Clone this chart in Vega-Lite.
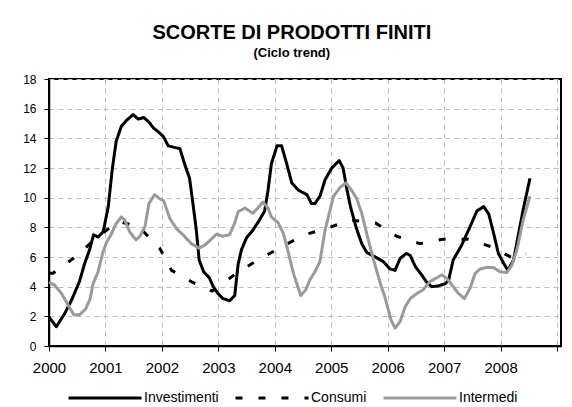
{
  "$schema": "https://vega.github.io/schema/vega-lite/v6.json",
  "width": 512,
  "height": 267,
  "autosize": {"type": "none"},
  "padding": {"left": 49, "top": 79, "right": 11, "bottom": 61},
  "background": "white",
  "title": {
    "text": "SCORTE DI PRODOTTI FINITI",
    "subtitle": "(Ciclo trend)",
    "font": "Liberation Sans",
    "fontSize": 20,
    "fontWeight": "bold",
    "color": "black",
    "subtitleFont": "Liberation Sans",
    "subtitleFontSize": 13,
    "subtitleFontWeight": "bold",
    "subtitleColor": "black",
    "subtitlePadding": 4,
    "anchor": "middle",
    "frame": "bounds",
    "offset": 13
  },
  "data": {
    "values": [
      {"s": "Investimenti", "t": 2000.00, "v": 1.95},
      {"s": "Investimenti", "t": 2000.13, "v": 1.3},
      {"s": "Investimenti", "t": 2000.28, "v": 2.2},
      {"s": "Investimenti", "t": 2000.40, "v": 3.1},
      {"s": "Investimenti", "t": 2000.54, "v": 4.35},
      {"s": "Investimenti", "t": 2000.63, "v": 5.55},
      {"s": "Investimenti", "t": 2000.72, "v": 6.5},
      {"s": "Investimenti", "t": 2000.79, "v": 7.5},
      {"s": "Investimenti", "t": 2000.87, "v": 7.35},
      {"s": "Investimenti", "t": 2000.96, "v": 7.7},
      {"s": "Investimenti", "t": 2001.05, "v": 9.4},
      {"s": "Investimenti", "t": 2001.12, "v": 11.9},
      {"s": "Investimenti", "t": 2001.19, "v": 13.8},
      {"s": "Investimenti", "t": 2001.28, "v": 14.8},
      {"s": "Investimenti", "t": 2001.37, "v": 15.2},
      {"s": "Investimenti", "t": 2001.49, "v": 15.6},
      {"s": "Investimenti", "t": 2001.58, "v": 15.3},
      {"s": "Investimenti", "t": 2001.68, "v": 15.4},
      {"s": "Investimenti", "t": 2001.77, "v": 15.1},
      {"s": "Investimenti", "t": 2001.85, "v": 14.7},
      {"s": "Investimenti", "t": 2001.95, "v": 14.4},
      {"s": "Investimenti", "t": 2002.03, "v": 14.1},
      {"s": "Investimenti", "t": 2002.11, "v": 13.5},
      {"s": "Investimenti", "t": 2002.21, "v": 13.4},
      {"s": "Investimenti", "t": 2002.32, "v": 13.3},
      {"s": "Investimenti", "t": 2002.40, "v": 12.3},
      {"s": "Investimenti", "t": 2002.49, "v": 11.3},
      {"s": "Investimenti", "t": 2002.55, "v": 9.6},
      {"s": "Investimenti", "t": 2002.61, "v": 7.8},
      {"s": "Investimenti", "t": 2002.66, "v": 5.8},
      {"s": "Investimenti", "t": 2002.74, "v": 5.0},
      {"s": "Investimenti", "t": 2002.84, "v": 4.6},
      {"s": "Investimenti", "t": 2002.91, "v": 4.0},
      {"s": "Investimenti", "t": 2002.99, "v": 3.55},
      {"s": "Investimenti", "t": 2003.08, "v": 3.2},
      {"s": "Investimenti", "t": 2003.20, "v": 3.05},
      {"s": "Investimenti", "t": 2003.29, "v": 3.4},
      {"s": "Investimenti", "t": 2003.35, "v": 5.5},
      {"s": "Investimenti", "t": 2003.41, "v": 6.5},
      {"s": "Investimenti", "t": 2003.50, "v": 7.3},
      {"s": "Investimenti", "t": 2003.61, "v": 7.8},
      {"s": "Investimenti", "t": 2003.73, "v": 8.5},
      {"s": "Investimenti", "t": 2003.82, "v": 9.1},
      {"s": "Investimenti", "t": 2003.88, "v": 10.5},
      {"s": "Investimenti", "t": 2003.94, "v": 12.3},
      {"s": "Investimenti", "t": 2004.04, "v": 13.5},
      {"s": "Investimenti", "t": 2004.12, "v": 13.5},
      {"s": "Investimenti", "t": 2004.21, "v": 12.3},
      {"s": "Investimenti", "t": 2004.30, "v": 11.0},
      {"s": "Investimenti", "t": 2004.42, "v": 10.5},
      {"s": "Investimenti", "t": 2004.57, "v": 10.2},
      {"s": "Investimenti", "t": 2004.65, "v": 9.6},
      {"s": "Investimenti", "t": 2004.71, "v": 9.6},
      {"s": "Investimenti", "t": 2004.80, "v": 10.1},
      {"s": "Investimenti", "t": 2004.89, "v": 11.2},
      {"s": "Investimenti", "t": 2005.01, "v": 12.0},
      {"s": "Investimenti", "t": 2005.14, "v": 12.5},
      {"s": "Investimenti", "t": 2005.21, "v": 12.0},
      {"s": "Investimenti", "t": 2005.27, "v": 10.7},
      {"s": "Investimenti", "t": 2005.34, "v": 9.4},
      {"s": "Investimenti", "t": 2005.44, "v": 8.0},
      {"s": "Investimenti", "t": 2005.54, "v": 6.9},
      {"s": "Investimenti", "t": 2005.63, "v": 6.3},
      {"s": "Investimenti", "t": 2005.78, "v": 6.0},
      {"s": "Investimenti", "t": 2005.92, "v": 5.7},
      {"s": "Investimenti", "t": 2006.04, "v": 5.2},
      {"s": "Investimenti", "t": 2006.13, "v": 5.1},
      {"s": "Investimenti", "t": 2006.22, "v": 5.9},
      {"s": "Investimenti", "t": 2006.33, "v": 6.25},
      {"s": "Investimenti", "t": 2006.40, "v": 6.1},
      {"s": "Investimenti", "t": 2006.49, "v": 5.35},
      {"s": "Investimenti", "t": 2006.60, "v": 4.8},
      {"s": "Investimenti", "t": 2006.69, "v": 4.3},
      {"s": "Investimenti", "t": 2006.78, "v": 4.0},
      {"s": "Investimenti", "t": 2006.90, "v": 4.05},
      {"s": "Investimenti", "t": 2007.02, "v": 4.2},
      {"s": "Investimenti", "t": 2007.08, "v": 4.45},
      {"s": "Investimenti", "t": 2007.16, "v": 5.8},
      {"s": "Investimenti", "t": 2007.31, "v": 6.8},
      {"s": "Investimenti", "t": 2007.46, "v": 8.05},
      {"s": "Investimenti", "t": 2007.58, "v": 9.1},
      {"s": "Investimenti", "t": 2007.70, "v": 9.4},
      {"s": "Investimenti", "t": 2007.79, "v": 8.9},
      {"s": "Investimenti", "t": 2007.87, "v": 7.7},
      {"s": "Investimenti", "t": 2007.96, "v": 6.25},
      {"s": "Investimenti", "t": 2008.05, "v": 5.6},
      {"s": "Investimenti", "t": 2008.13, "v": 5.1},
      {"s": "Investimenti", "t": 2008.23, "v": 5.8},
      {"s": "Investimenti", "t": 2008.31, "v": 7.4},
      {"s": "Investimenti", "t": 2008.40, "v": 9.2},
      {"s": "Investimenti", "t": 2008.52, "v": 11.3},
      {"s": "Consumi", "t": 2000.00, "v": 4.9},
      {"s": "Consumi", "t": 2000.07, "v": 4.9},
      {"s": "Consumi", "t": 2000.50, "v": 6.1},
      {"s": "Consumi", "t": 2000.84, "v": 7.3},
      {"s": "Consumi", "t": 2001.23, "v": 8.4},
      {"s": "Consumi", "t": 2001.59, "v": 8.05},
      {"s": "Consumi", "t": 2001.96, "v": 6.6},
      {"s": "Consumi", "t": 2002.17, "v": 5.1},
      {"s": "Consumi", "t": 2002.54, "v": 4.3},
      {"s": "Consumi", "t": 2002.89, "v": 3.7},
      {"s": "Consumi", "t": 2003.32, "v": 4.9},
      {"s": "Consumi", "t": 2003.70, "v": 5.8},
      {"s": "Consumi", "t": 2004.13, "v": 6.7},
      {"s": "Consumi", "t": 2004.52, "v": 7.5},
      {"s": "Consumi", "t": 2004.91, "v": 7.9},
      {"s": "Consumi", "t": 2005.33, "v": 8.5},
      {"s": "Consumi", "t": 2005.78, "v": 8.3},
      {"s": "Consumi", "t": 2006.16, "v": 7.4},
      {"s": "Consumi", "t": 2006.57, "v": 6.9},
      {"s": "Consumi", "t": 2006.98, "v": 7.2},
      {"s": "Consumi", "t": 2007.42, "v": 7.2},
      {"s": "Consumi", "t": 2007.83, "v": 6.7},
      {"s": "Consumi", "t": 2008.23, "v": 5.9},
      {"s": "Consumi", "t": 2008.45, "v": 6.2},
      {"s": "Intermedi", "t": 2000.00, "v": 4.3},
      {"s": "Intermedi", "t": 2000.10, "v": 4.1},
      {"s": "Intermedi", "t": 2000.22, "v": 3.55},
      {"s": "Intermedi", "t": 2000.34, "v": 2.75},
      {"s": "Intermedi", "t": 2000.44, "v": 2.1},
      {"s": "Intermedi", "t": 2000.54, "v": 2.1},
      {"s": "Intermedi", "t": 2000.65, "v": 2.5},
      {"s": "Intermedi", "t": 2000.73, "v": 3.2},
      {"s": "Intermedi", "t": 2000.78, "v": 4.2},
      {"s": "Intermedi", "t": 2000.87, "v": 5.0},
      {"s": "Intermedi", "t": 2000.95, "v": 6.25},
      {"s": "Intermedi", "t": 2001.02, "v": 7.0},
      {"s": "Intermedi", "t": 2001.10, "v": 7.5},
      {"s": "Intermedi", "t": 2001.18, "v": 8.2},
      {"s": "Intermedi", "t": 2001.28, "v": 8.7},
      {"s": "Intermedi", "t": 2001.34, "v": 8.5},
      {"s": "Intermedi", "t": 2001.43, "v": 7.7},
      {"s": "Intermedi", "t": 2001.54, "v": 7.15},
      {"s": "Intermedi", "t": 2001.61, "v": 7.4},
      {"s": "Intermedi", "t": 2001.70, "v": 8.05},
      {"s": "Intermedi", "t": 2001.77, "v": 9.6},
      {"s": "Intermedi", "t": 2001.87, "v": 10.2},
      {"s": "Intermedi", "t": 2001.95, "v": 9.95},
      {"s": "Intermedi", "t": 2002.03, "v": 9.8},
      {"s": "Intermedi", "t": 2002.14, "v": 8.6},
      {"s": "Intermedi", "t": 2002.26, "v": 7.9},
      {"s": "Intermedi", "t": 2002.40, "v": 7.4},
      {"s": "Intermedi", "t": 2002.52, "v": 6.9},
      {"s": "Intermedi", "t": 2002.66, "v": 6.6},
      {"s": "Intermedi", "t": 2002.76, "v": 6.8},
      {"s": "Intermedi", "t": 2002.86, "v": 7.15},
      {"s": "Intermedi", "t": 2002.97, "v": 7.55},
      {"s": "Intermedi", "t": 2003.07, "v": 7.4},
      {"s": "Intermedi", "t": 2003.20, "v": 7.5},
      {"s": "Intermedi", "t": 2003.29, "v": 8.3},
      {"s": "Intermedi", "t": 2003.35, "v": 9.05},
      {"s": "Intermedi", "t": 2003.47, "v": 9.3},
      {"s": "Intermedi", "t": 2003.61, "v": 8.95},
      {"s": "Intermedi", "t": 2003.70, "v": 9.3},
      {"s": "Intermedi", "t": 2003.79, "v": 9.7},
      {"s": "Intermedi", "t": 2003.88, "v": 9.3},
      {"s": "Intermedi", "t": 2003.94, "v": 8.7},
      {"s": "Intermedi", "t": 2004.06, "v": 8.3},
      {"s": "Intermedi", "t": 2004.15, "v": 7.6},
      {"s": "Intermedi", "t": 2004.22, "v": 6.6},
      {"s": "Intermedi", "t": 2004.33, "v": 4.9},
      {"s": "Intermedi", "t": 2004.46, "v": 3.4},
      {"s": "Intermedi", "t": 2004.55, "v": 3.8},
      {"s": "Intermedi", "t": 2004.62, "v": 4.45},
      {"s": "Intermedi", "t": 2004.71, "v": 5.0},
      {"s": "Intermedi", "t": 2004.80, "v": 5.7},
      {"s": "Intermedi", "t": 2004.89, "v": 7.8},
      {"s": "Intermedi", "t": 2005.04, "v": 10.1},
      {"s": "Intermedi", "t": 2005.16, "v": 10.7},
      {"s": "Intermedi", "t": 2005.26, "v": 11.0},
      {"s": "Intermedi", "t": 2005.36, "v": 10.5},
      {"s": "Intermedi", "t": 2005.45, "v": 9.95},
      {"s": "Intermedi", "t": 2005.54, "v": 8.95},
      {"s": "Intermedi", "t": 2005.64, "v": 7.4},
      {"s": "Intermedi", "t": 2005.75, "v": 5.8},
      {"s": "Intermedi", "t": 2005.87, "v": 4.2},
      {"s": "Intermedi", "t": 2005.95, "v": 3.3},
      {"s": "Intermedi", "t": 2006.06, "v": 1.75},
      {"s": "Intermedi", "t": 2006.13, "v": 1.2},
      {"s": "Intermedi", "t": 2006.22, "v": 1.65},
      {"s": "Intermedi", "t": 2006.31, "v": 2.65},
      {"s": "Intermedi", "t": 2006.40, "v": 3.2},
      {"s": "Intermedi", "t": 2006.52, "v": 3.55},
      {"s": "Intermedi", "t": 2006.63, "v": 3.8},
      {"s": "Intermedi", "t": 2006.75, "v": 4.35},
      {"s": "Intermedi", "t": 2006.87, "v": 4.6},
      {"s": "Intermedi", "t": 2006.96, "v": 4.8},
      {"s": "Intermedi", "t": 2007.05, "v": 4.55},
      {"s": "Intermedi", "t": 2007.16, "v": 4.0},
      {"s": "Intermedi", "t": 2007.25, "v": 3.55},
      {"s": "Intermedi", "t": 2007.36, "v": 3.2},
      {"s": "Intermedi", "t": 2007.46, "v": 3.9},
      {"s": "Intermedi", "t": 2007.55, "v": 4.9},
      {"s": "Intermedi", "t": 2007.64, "v": 5.2},
      {"s": "Intermedi", "t": 2007.76, "v": 5.3},
      {"s": "Intermedi", "t": 2007.87, "v": 5.3},
      {"s": "Intermedi", "t": 2007.99, "v": 5.0},
      {"s": "Intermedi", "t": 2008.11, "v": 4.95},
      {"s": "Intermedi", "t": 2008.20, "v": 5.45},
      {"s": "Intermedi", "t": 2008.29, "v": 6.5},
      {"s": "Intermedi", "t": 2008.40, "v": 8.5},
      {"s": "Intermedi", "t": 2008.52, "v": 10.1}
    ]
  },
  "mark": {"type": "line", "strokeWidth": 3, "strokeJoin": "round", "clip": false},
  "encoding": {
    "x": {
      "field": "t",
      "type": "quantitative",
      "scale": {"domain": [2000, 2009.07], "nice": false, "zero": false},
      "axis": {
        "title": null,
        "values": [2000, 2001, 2002, 2003, 2004, 2005, 2006, 2007, 2008, 2009],
        "format": "d",
        "labelExpr": "datum.value > 2008.5 ? '' : datum.label",
        "labelFontSize": 15,
        "labelPadding": 9,
        "labelFlush": false
      }
    },
    "y": {
      "field": "v",
      "type": "quantitative",
      "scale": {"domain": [0, 18], "nice": false},
      "axis": {
        "title": null,
        "values": [0, 2, 4, 6, 8, 10, 12, 14, 16, 18],
        "labelFontSize": 12,
        "labelPadding": 8
      }
    },
    "color": {
      "field": "s",
      "type": "nominal",
      "scale": {"domain": ["Investimenti", "Consumi", "Intermedi"], "range": ["#000000", "#000000", "#9a9a9a"]},
      "legend": {
        "title": null,
        "orient": "none",
        "legendX": 18,
        "legendY": 281,
        "direction": "horizontal",
        "symbolType": "stroke",
        "symbolSize": 5329,
        "symbolStrokeWidth": 3,
        "labelFont": "Liberation Sans",
        "labelFontSize": 14,
        "labelColor": "black",
        "labelOffset": 1,
        "columnPadding": 10,
        "padding": 0
      }
    },
    "strokeDash": {
      "field": "s",
      "type": "nominal",
      "scale": {"domain": ["Investimenti", "Consumi", "Intermedi"], "range": [[1, 0], [7, 16], [1, 0]]},
      "legend": {
        "title": null,
        "orient": "none",
        "legendX": 18,
        "legendY": 281,
        "direction": "horizontal",
        "symbolType": "stroke",
        "symbolSize": 5329,
        "symbolStrokeWidth": 3,
        "labelFont": "Liberation Sans",
        "labelFontSize": 14,
        "labelColor": "black",
        "labelOffset": 1,
        "columnPadding": 10,
        "padding": 0
      }
    }
  },
  "config": {
    "view": {"stroke": "black", "strokeWidth": 2},
    "axis": {
      "domainColor": "black",
      "domainWidth": 1.5,
      "tickColor": "black",
      "tickSize": 5,
      "gridColor": "#bdbdbd",
      "gridDash": [5, 4],
      "gridWidth": 1,
      "labelFont": "Liberation Sans",
      "labelColor": "black"
    }
  }
}
